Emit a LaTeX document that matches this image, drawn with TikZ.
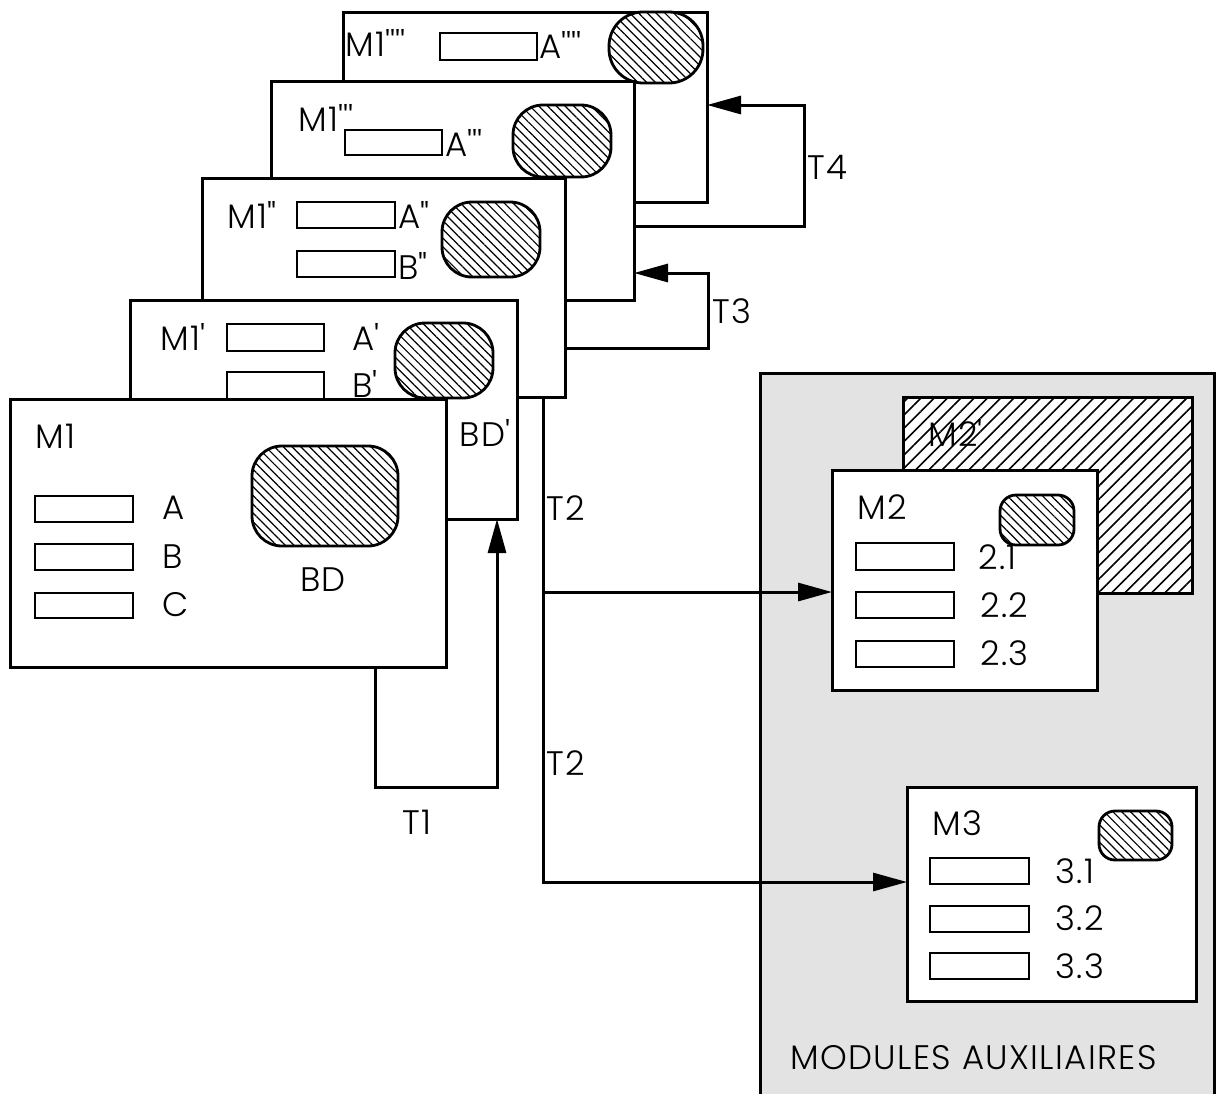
\documentclass[tikz,border=0pt]{standalone}
\usepackage{fontspec}
\IfFontExistsTF{Poppins Light}{\setmainfont{Poppins Light}[LetterSpace=4]}{\setmainfont{Poppins}[LetterSpace=4]}
\usetikzlibrary{patterns.meta,arrows.meta}
\newcommand\tk{\textquotesingle}
\newcommand\rbox[6]{\node[#1,minimum width={(#4-#2)*0.5pt},minimum height={(#5-#3)*0.5pt}] (#6) at ({(#2+#4)/2},{(#3+#5)/2}) {};}
\begin{document}
\begin{tikzpicture}[x=0.5pt,y=-0.5pt,
  card/.style={draw,line width=1.5pt,fill=white,inner sep=0pt,outer sep=0pt},
  bar/.style={draw,line width=1.4pt,fill=white,inner sep=0pt,outer sep=0pt},
  blob/.style={draw,line width=1.4pt,inner sep=0pt,outer sep=0pt,rounded corners=#1,
    preaction={fill=white},pattern={Lines[angle=-45,distance=3.1pt,line width=0.6pt]}},
  blob/.default=15pt,
  auxbox/.style={draw,line width=1.5pt,fill=black!11,inner sep=0pt,outer sep=0pt},
  ghost/.style={draw,line width=1.5pt,inner sep=0pt,outer sep=0pt,preaction={fill=white},
    pattern={Lines[angle=45,distance=4.7pt,line width=0.8pt]}},
  conn/.style={line width=1.5pt},
  arr/.style={conn,-{Triangle[length=17pt,width=9pt]}},
  lbl/.style={font=\fontsize{17}{19}\selectfont,inner sep=0pt,anchor=west},
  clbl/.style={font=\fontsize{17}{19}\selectfont,inner sep=0pt,anchor=center}]
\clip (0,0) rectangle (1224,1093);

% ---------- auxiliary modules ----------
\rbox{auxbox}{760}{373}{1214}{1120}{aux}
\rbox{ghost}{903}{397}{1192}{593}{m2g}
\node[lbl] (lm2g) at (928,433) {M2\tk};
\rbox{card}{832}{470}{1097}{690}{m2}
\node[lbl] (lm2) at (857,507) {M2};
\rbox{blob=8pt}{1000}{495}{1074}{545}{bm2}
\rbox{bar}{856}{543}{954}{570}{m2a}
\rbox{bar}{856}{592}{954}{618}{m2b}
\rbox{bar}{856}{641}{954}{667}{m2c}
\node[lbl] (l21) at (978,557) {2.1};
\node[lbl] (l22) at (980,605) {2.2};
\node[lbl] (l23) at (980,653) {2.3};
\rbox{card}{907}{787}{1196}{1001}{m3}
\node[lbl] (lm3) at (932,823) {M3};
\rbox{blob=8pt}{1099}{811}{1172}{860}{bm3}
\rbox{bar}{930}{858}{1029}{884}{m3a}
\rbox{bar}{930}{906}{1029}{932}{m3b}
\rbox{bar}{930}{953}{1029}{979}{m3c}
\node[lbl] (l31) at (1055,871) {3.1};
\node[lbl] (l32) at (1055,918) {3.2};
\node[lbl] (l33) at (1055,966) {3.3};
\node[lbl] (laux) at (790,1058) {MODULES AUXILIAIRES};

% ---------- card M1'''' ----------
\rbox{card}{343}{12}{707}{202}{c4}
\node[lbl] (lc4) at (345,43) {M1\tk\tk\tk\tk};
\rbox{bar}{440}{33}{537}{60}{c4a}
\node[lbl] (lc4a) at (539,45) {A\tk\tk\tk\tk};
\rbox{blob=17pt}{609}{12}{703}{83}{bc4}

% ---------- card M1''' ----------
\rbox{card}{271}{81}{634}{300}{c3}
\node[lbl] (lc3) at (298,118) {M1\tk\tk\tk};
\rbox{bar}{345}{130}{442}{155}{c3a}
\node[lbl] (lc3a) at (445,143) {A\tk\tk\tk};
\rbox{blob}{513}{105}{611}{177}{bc3}

% ---------- card M1'' ----------
\rbox{card}{202}{178}{565}{397}{c2}
\node[lbl] (lc2) at (227,215) {M1\textquotedbl};
\rbox{bar}{297}{202}{395}{228}{c2a}
\node[lbl] (lc2a) at (398,215) {A\textquotedbl};
\rbox{bar}{297}{251}{395}{277}{c2b}
\node[lbl] (lc2b) at (398,266) {B\textquotedbl};
\rbox{blob}{442}{202}{540}{277}{bc2}

% ---------- card M1' ----------
\rbox{card}{130}{300}{517}{519}{c1}
\node[lbl] (lc1) at (160,337) {M1\tk};
\rbox{bar}{227}{324}{324}{351}{c1a}
\node[lbl] (lc1a) at (352,337) {A\tk};
\rbox{bar}{227}{372}{324}{410}{c1b}
\node[lbl] (lc1b) at (352,384) {B\tk};
\rbox{blob}{395}{323}{493}{398}{bc1}
\node[lbl] (lbd1) at (459,433) {BD\tk};

% ---------- card M1 ----------
\rbox{card}{10}{399}{446}{667}{c0}
\node[lbl] (lc0) at (35,436) {M1};
\rbox{bar}{35}{496}{133}{522}{c0a}
\rbox{bar}{35}{544}{133}{570}{c0b}
\rbox{bar}{35}{593}{133}{618}{c0c}
\node[lbl] (lc0a) at (162,508) {A};
\node[lbl] (lc0b) at (162,557) {B};
\node[lbl] (lc0c) at (162,605) {C};
\rbox{blob}{252}{446}{398}{546}{bc0}
\node[clbl] (lbd0) at (323,580) {BD};

% ---------- connectors ----------
\coordinate (t1a) at (375,787);
\coordinate (t1b) at (497,787);
\draw[arr] (c0.south -| t1a) -- (t1a) -- (t1b) -- (c1.south -| t1b);
\node[clbl] (lt1) at (417,822) {T1};

\coordinate (t2a) at (543,882);
\coordinate (t2b) at (543,592);
\draw[arr] (c2.south -| t2a) -- (t2a) -- (m3.west |- t2a);
\draw[arr] (t2b) -- (m2.west |- t2b);
\node[lbl] (lt2a) at (546,508) {T2};
\node[lbl] (lt2b) at (546,763) {T2};

\coordinate (t3a) at (708,348);
\coordinate (t3b) at (708,273);
\draw[arr] (c2.east |- t3a) -- (t3a) -- (t3b) -- (c3.east |- t3b);
\node[lbl] (lt3) at (712,311) {T3};

\coordinate (t4a) at (804,226);
\coordinate (t4b) at (804,105);
\draw[arr] (c3.east |- t4a) -- (t4a) -- (t4b) -- (c4.east |- t4b);
\node[lbl] (lt4) at (807,167) {T4};
\end{tikzpicture}
\end{document}
